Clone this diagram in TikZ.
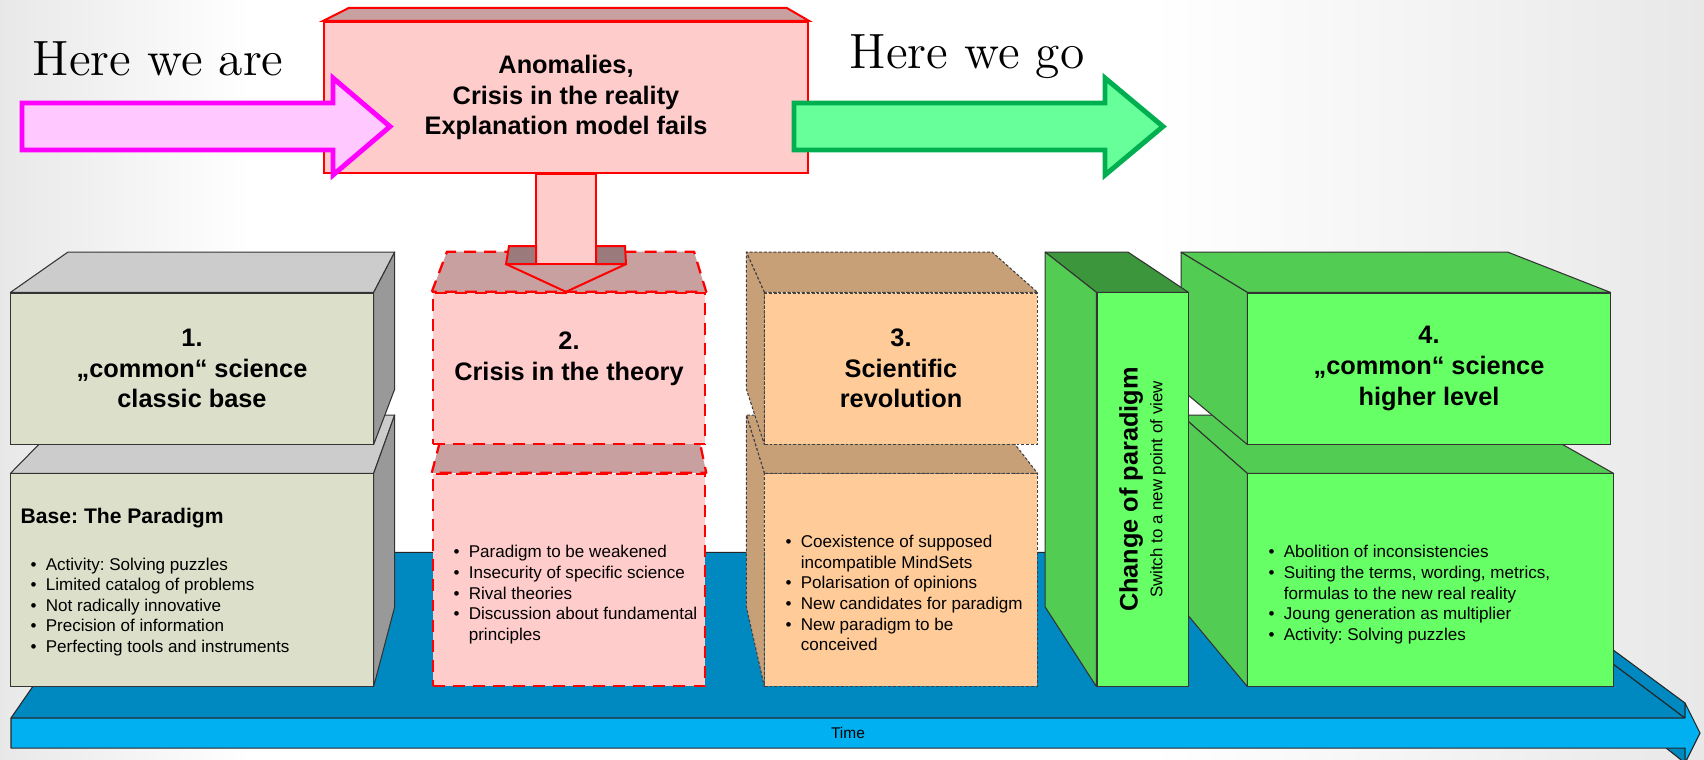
\documentclass[tikz,border=0pt]{standalone}
\usepackage{fontspec}
\setsansfont{Liberation Sans}
\usetikzlibrary{calc}
\frenchspacing

\definecolor{greyfront}{HTML}{DCE0CA}
\definecolor{greytop}{HTML}{CCCCCC}
\definecolor{greyside}{HTML}{999999}
\definecolor{redfront}{HTML}{FFCCCC}
\definecolor{redtop}{HTML}{C8A0A0}
\definecolor{redwing}{HTML}{9A7A7A}
\definecolor{orangefront}{HTML}{FFCC99}
\definecolor{orangetop}{HTML}{C8A078}
\definecolor{greenfront}{HTML}{66FF66}
\definecolor{greenside}{HTML}{52CC52}
\definecolor{slabtop}{HTML}{3C963C}
\definecolor{timefront}{HTML}{00B0F0}
\definecolor{timetop}{HTML}{0088C0}
\definecolor{pinkfill}{HTML}{FFC8FF}
\definecolor{pinkline}{HTML}{FF00FF}
\definecolor{gofill}{HTML}{66FF99}
\definecolor{goline}{HTML}{00B050}

\begin{document}
\begin{tikzpicture}[x=0.01cm,y=-0.01cm]
\begin{scope}

\tikzstyle{crate}=[rectangle,
inner sep=0pt,
minimum height=1.51cm,
align=center,
font=\sffamily\bfseries\fontsize{7.2}{8.7}\selectfont
]
\tikzstyle{greycrate}=[crate, fill=greyfront, draw=black!80, line width=0.3pt]
\tikzstyle{greyedge}=[draw=black!80, line width=0.3pt, line join=round]
\tikzstyle{redcrate}=[crate, fill=redfront, draw=red, line width=0.65pt, dash pattern=on 3.4pt off 2.3pt]
\tikzstyle{rededge}=[fill=redtop, draw=red, line width=0.65pt, dash pattern=on 3.4pt off 2.3pt, line join=round]
\tikzstyle{orangecrate}=[crate, fill=orangefront, draw=black!75, line width=0.3pt, dash pattern=on 0.8pt off 0.55pt]
\tikzstyle{orangeedge}=[fill=orangetop, draw=black!75, line width=0.3pt, dash pattern=on 0.8pt off 0.55pt, line join=round]
\tikzstyle{greencrate}=[crate, fill=greenfront, draw=black!80, line width=0.3pt]
\tikzstyle{greenedge}=[fill=greenside, draw=black!80, line width=0.3pt, line join=round]
\tikzstyle{timeedge}=[fill=timetop, draw=black!85, line width=0.3pt, line join=round]
\tikzstyle{bullets}=[anchor=west, inner sep=0pt, font=\sffamily\fontsize{4.85}{5.85}\selectfont]
\tikzstyle{handwords}=[anchor=base west, inner sep=0pt, font=\fontsize{14.1}{16}\selectfont]

% page and background
\useasboundingbox (0,0) rectangle (1704,759);
\clip (0,0) rectangle (1704,759);
\fill[white] (0,0) rectangle (1704,759);
\shade[left color=black!9, right color=white] (0,0) rectangle (250,759);
\shade[left color=white, right color=black!9] (1150,0) rectangle (1704,759);

\coordinate (vp) at (584,-110);

% time platform
\coordinate (t1) at (11,718);
\coordinate (t2) at (1685,718);
\coordinate (t3) at (1685,703);
\coordinate (tip) at (1700,733);
\coordinate (t4) at (1685,763);
\coordinate (t5) at (1685,748);
\coordinate (t6) at (11,748);

\filldraw[timeedge] (t5) -- (t4) -- ($(t4)!0.2!(vp)$) -- ($(t5)!0.2!(vp)$) -- cycle;
\filldraw[timeedge] (t1) -- ($(t1)!0.2!(vp)$) -- ($(t2)!0.2!(vp)$) -- (t2) -- cycle;
\filldraw[timeedge] (t2) -- (t3) -- ($(t3)!0.2!(vp)$) -- ($(t2)!0.2!(vp)$) -- cycle;
\filldraw[timeedge, fill=timefront] (t1) -- (t2) -- (t3) -- (tip) -- (t4) -- (t5) -- (t6) -- cycle;
\node[inner sep=0pt, font=\sffamily\fontsize{4.4}{5}\selectfont] (time) at (848,733) {Time};

% 1. common science
\node[greycrate, minimum width=3.62cm, minimum height=2.12cm] (b1low) at (192,580) {};
\filldraw[greyedge, fill=greytop] (b1low.north west) -- ($(b1low.north west)!0.1!(vp)$) -- ($(b1low.north east)!0.1!(vp)$) -- (b1low.north east) -- cycle;
\filldraw[greyedge, fill=greyside] (b1low.north east) -- ($(b1low.north east)!0.1!(vp)$) -- ($(b1low.south east)!0.1!(vp)$) -- (b1low.south east) -- cycle;

\node[greycrate, minimum width=3.62cm] (b1up) at (192,368.5) {1.\\„common“ science\\classic base};
\filldraw[greyedge, fill=greytop] (b1up.north west) -- ($(b1up.north west)!0.1!(vp)$) -- ($(b1up.north east)!0.1!(vp)$) -- (b1up.north east) -- cycle;
\filldraw[greyedge, fill=greyside] (b1up.north east) -- ($(b1up.north east)!0.1!(vp)$) -- ($(b1up.south east)!0.1!(vp)$) -- (b1up.south east) -- cycle;

\node[anchor=base west, inner sep=0pt, font=\sffamily\bfseries\fontsize{6}{7}\selectfont] (b1head) at (20,523) {Base: The Paradigm};
\node[bullets] (b1list) at (30,607) {\begin{tabular}{@{}l@{\hspace{2.6pt}}l@{}}
\textbullet & Activity: Solving puzzles\\
\textbullet & Limited catalog of problems\\
\textbullet & Not radically innovative\\
\textbullet & Precision of information\\
\textbullet & Perfecting tools and instruments
\end{tabular}};

% 2. crisis
\node[redcrate, minimum width=2.72cm, minimum height=2.12cm] (b2low) at (569,580) {};
\filldraw[rededge] (b2low.north west) -- ($(b2low.north west)!0.1!(vp)$) -- ($(b2low.north east)!0.1!(vp)$) -- (b2low.north east) -- cycle;

\node[redcrate, minimum width=2.72cm] (b2up) at (569,368.5) {};
\filldraw[rededge] (b2up.north west) -- ($(b2up.north west)!0.1!(vp)$) -- ($(b2up.north east)!0.1!(vp)$) -- (b2up.north east) -- cycle;
\node[crate, minimum height=0pt] (b2title) at ($(b2up.center)+(0,-10)$) {2.\\Crisis in the theory};

\node[bullets] (b2list) at (453,595) {\begin{tabular}{@{}l@{\hspace{2.6pt}}l@{}}
\textbullet & Paradigm to be weakened\\
\textbullet & Insecurity of specific science\\
\textbullet & Rival theories\\
\textbullet & Discussion about fundamental\\
 & principles
\end{tabular}};

% 3. revolution
\node[orangecrate, minimum width=2.72cm, minimum height=2.12cm] (b3low) at (901,580) {};
\filldraw[orangeedge] (b3low.north west) -- ($(b3low.north west)!0.1!(vp)$) -- ($(b3low.north east)!0.1!(vp)$) -- (b3low.north east) -- cycle;
\filldraw[orangeedge] (b3low.north west) -- ($(b3low.north west)!0.1!(vp)$) -- ($(b3low.south west)!0.1!(vp)$) -- (b3low.south west) -- cycle;

\node[orangecrate, minimum width=2.72cm] (b3up) at (901,368.5) {3.\\Scientific\\revolution};
\filldraw[orangeedge] (b3up.north west) -- ($(b3up.north west)!0.1!(vp)$) -- ($(b3up.north east)!0.1!(vp)$) -- (b3up.north east) -- cycle;
\filldraw[orangeedge] (b3up.north west) -- ($(b3up.north west)!0.1!(vp)$) -- ($(b3up.south west)!0.1!(vp)$) -- (b3up.south west) -- cycle;

\node[bullets] (b3list) at (785,595) {\begin{tabular}{@{}l@{\hspace{2.6pt}}l@{}}
\textbullet & Coexistence of supposed\\
 & incompatible MindSets\\
\textbullet & Polarisation of opinions\\
\textbullet & New candidates for paradigm\\
\textbullet & New paradigm to be\\
 & conceived
\end{tabular}};

% 4. higher level
\node[greencrate, minimum width=3.65cm, minimum height=2.12cm] (b4low) at (1430.5,580) {};
\filldraw[greenedge] (b4low.north west) -- ($(b4low.north west)!0.1!(vp)$) -- ($(b4low.north east)!0.1!(vp)$) -- (b4low.north east) -- cycle;
\filldraw[greenedge] (b4low.north west) -- ($(b4low.north west)!0.1!(vp)$) -- ($(b4low.south west)!0.1!(vp)$) -- (b4low.south west) -- cycle;

\node[greencrate, minimum width=3.62cm] (b4up) at (1429,368.5) {4.\\„common“ science\\higher level};
\filldraw[greenedge] (b4up.north west) -- ($(b4up.north west)!0.1!(vp)$) -- ($(b4up.north east)!0.1!(vp)$) -- (b4up.north east) -- cycle;
\filldraw[greenedge] (b4up.north west) -- ($(b4up.north west)!0.1!(vp)$) -- ($(b4up.south west)!0.1!(vp)$) -- (b4up.south west) -- cycle;

\node[bullets] (b4list) at (1268,595) {\begin{tabular}{@{}l@{\hspace{2.6pt}}l@{}}
\textbullet & Abolition of inconsistencies\\
\textbullet & Suiting the terms, wording, metrics,\\
 & formulas to the new real reality\\
\textbullet & Joung generation as multiplier\\
\textbullet & Activity: Solving puzzles
\end{tabular}};

% change of paradigm
\node[greencrate, minimum width=0.91cm, minimum height=3.93cm] (slab) at (1142.5,489.5) {};
\filldraw[greenedge, fill=slabtop] (slab.north west) -- ($(slab.north west)!0.1!(vp)$) -- ($(slab.north east)!0.1!(vp)$) -- (slab.north east) -- cycle;
\filldraw[greenedge] (slab.north west) -- ($(slab.north west)!0.1!(vp)$) -- ($(slab.south west)!0.1!(vp)$) -- (slab.south west) -- cycle;
\node[rotate=90, align=center, inner sep=0pt, font=\sffamily\fontsize{4.8}{7}\selectfont] (slabtext) at (slab.center)
{{\bfseries\fontsize{7.2}{7}\selectfont Change of paradigm}\\Switch to a new point of view};

% anomalies
\node[crate, fill=redfront, draw=red, line width=0.57pt, minimum width=4.84cm] (anom) at (566,97.5) {Anomalies,\\Crisis in the reality\\Explanation model fails};
\filldraw[fill=redtop, draw=red, line width=0.57pt] (anom.north west) -- ($(anom.north west)!0.1!(vp)$) -- ($(anom.north east)!0.1!(vp)$) -- (anom.north east) -- cycle;

% arrow down into the crisis
\coordinate (dn) at (anom.south);
\filldraw[fill=redfront, draw=red, line width=0.57pt] ($(dn)+(-30,0)$) rectangle ($(dn)+(30,90)$);
\filldraw[fill=redwing, draw=red, line width=0.57pt] ($(dn)+(-60,90)$) -- ($(dn)+(-57,72)$) -- ($(dn)+(-30,72)$) -- ($(dn)+(-30,90)$) -- cycle;
\filldraw[fill=redwing, draw=red, line width=0.57pt] ($(dn)+(30,90)$) -- ($(dn)+(30,72)$) -- ($(dn)+(59,72)$) -- ($(dn)+(60,90)$) -- cycle;
\draw[red, line width=0.57pt] ($(dn)+(-60,90)$) -- (dn |- b2up.north) -- ($(dn)+(60,90)$);

% here we are / here we go
\filldraw[fill=pinkfill, draw=pinkline, line width=1.4pt] (22,103) -- (333,103) -- (333,78) -- (390,126.5) -- (333,175) -- (333,150) -- (22,150) -- cycle;
\filldraw[fill=gofill, draw=goline, line width=1.4pt] (794,103) -- (1105,103) -- (1105,78) -- (1163,126.5) -- (1105,175) -- (1105,150) -- (794,150) -- cycle;

\node[handwords] (here) at (32,75) {Here we are};
\node[handwords] (go) at (849,68) {Here we go};

\end{scope}
\end{tikzpicture}
\end{document}
